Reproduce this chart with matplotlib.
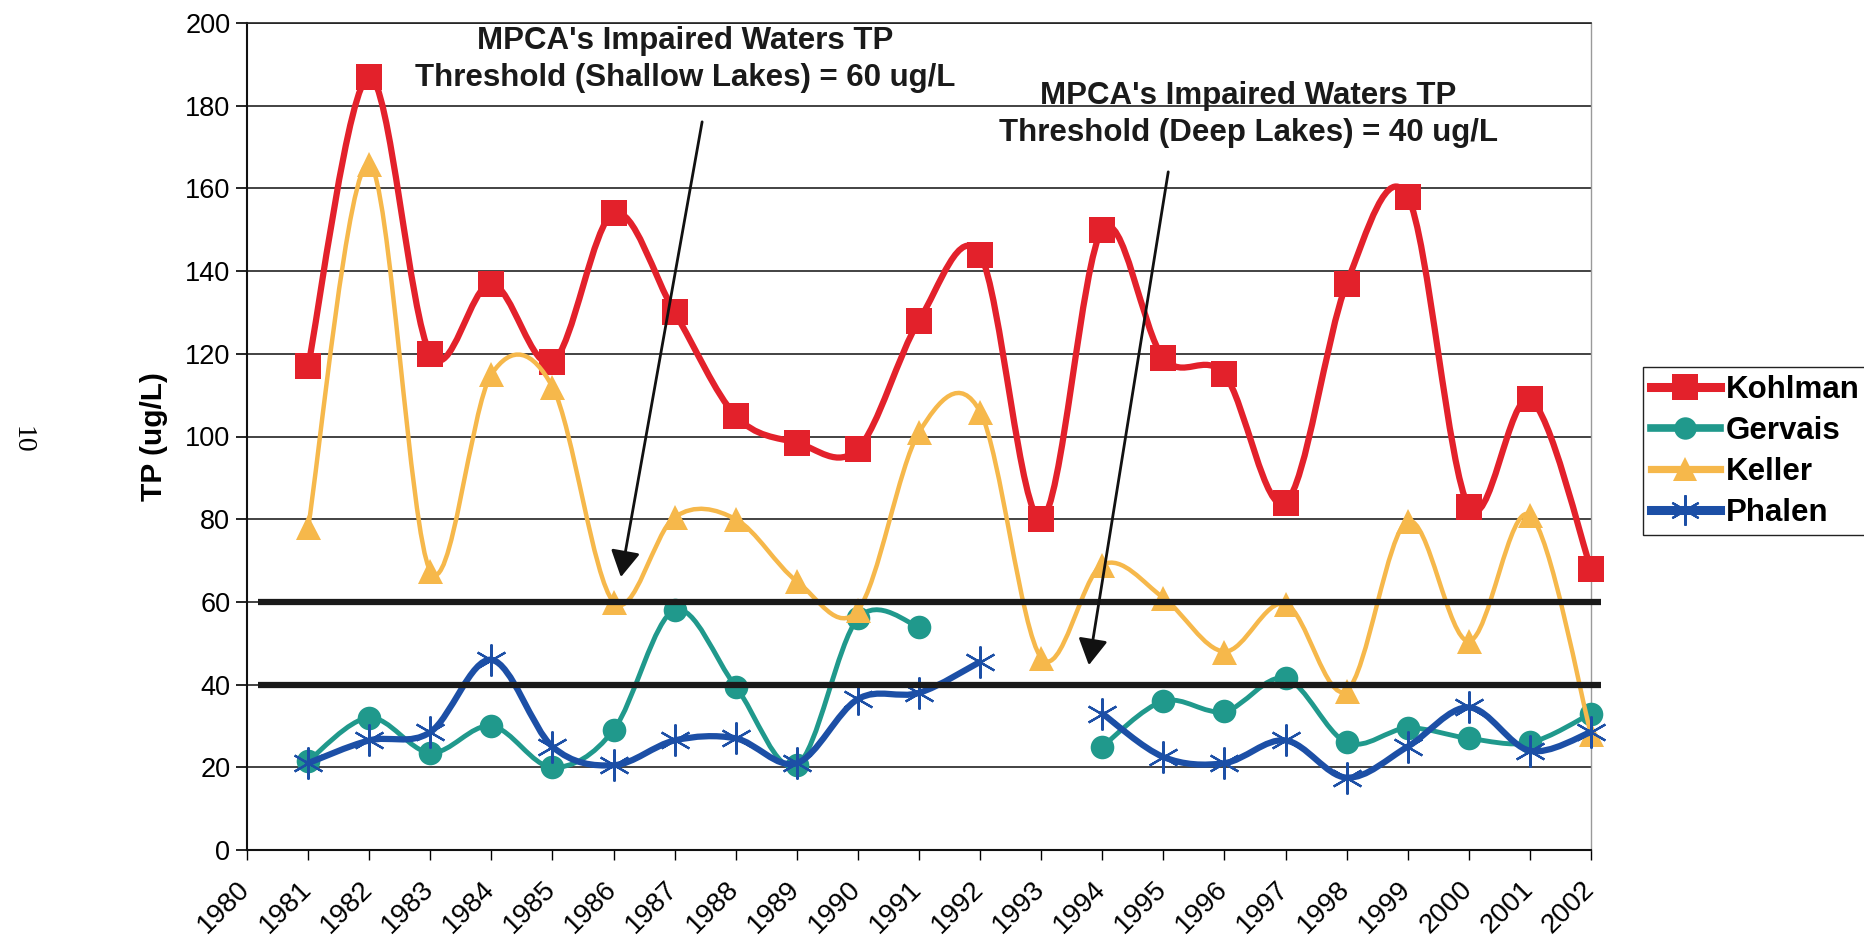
import numpy as np
import matplotlib.pyplot as plt
import matplotlib.transforms as mtransforms
from matplotlib.path import Path
from matplotlib.patches import PathPatch
from matplotlib.lines import Line2D

plt.rcParams['font.family'] = ['Liberation Sans', 'DejaVu Sans']

# values (ug/L), nan = no sample that year
years = np.arange(1981, 2003)
kohlman = [117, 187, 120, 137, 118, 154, 130, 105, 98.5, 97, 128, 144,
           80, 150, 119, 115, 84, 137, 158, 83, 109, 68]
gervais = [21.5, 32, 23.5, 30, 20, 29, 58, 39.5, 20.5, 56, 54, np.nan,
           np.nan, 25, 36, 33.5, 41.5, 26, 29.5, 27, 26, 33]
keller = [78, 166, 67.5, 115, 112, 60, 80.5, 80, 65, 58, 101, 106,
          46.5, 69, 61, 48, 59.5, 38.5, 79.5, 50.5, 81, 28]
phalen = [21, 26.5, 28.5, 46, 25, 20.5, 26.5, 27, 21, 36.5, 38, 45.5,
          np.nan, 33, 22.5, 21, 26.5, 17.5, 25, 34.5, 24, 28.5]
year_labels = [str(y) for y in range(1980, 2003)]

shallow_limit = 60
deep_limit = 40


def smooth_path(x, y):
    # Excel style "smoothed line": a cubic bezier through each run of points
    x = np.asarray(x, float)
    y = np.asarray(y, float)
    ok = ~np.isnan(y)
    runs, start = [], None
    for i, v in enumerate(ok):
        if v and start is None:
            start = i
        if not v and start is not None:
            runs.append((start, i))
            start = None
    if start is not None:
        runs.append((start, len(y)))
    verts, codes = [], []
    for a, b in runs:
        p = np.column_stack([x[a:b], y[a:b]])
        n = len(p)
        if n < 2:
            continue
        verts.append(p[0])
        codes.append(Path.MOVETO)
        for i in range(n - 1):
            p0 = p[i - 1] if i > 0 else p[i]
            p3 = p[i + 2] if i + 2 < n else p[i + 1]
            c1 = p[i] + (p[i + 1] - p0) / 6
            c2 = p[i + 1] - (p3 - p[i]) / 6
            verts += [c1, c2, p[i + 1]]
            codes += [Path.CURVE4] * 3
    return Path(verts, codes)


series = [
    ("Kohlman", kohlman, dict(color='#e3212b', lw=4.5, marker='s', ms=19, mew=0)),
    ("Gervais", gervais, dict(color='#20998c', lw=3.5, marker='o', ms=17, mew=0)),
    ("Keller", keller, dict(color='#f6b84b', lw=3.2, marker='^', ms=18, mew=0)),
    ("Phalen", phalen, dict(color='#1c4fa6', lw=4.5, marker=(6, 2, 0), ms=23, mew=1.6)),
]

fig = plt.figure(figsize=(18.65, 9.36), dpi=100)
ax = fig.add_axes([247 / 1865, 1 - 850 / 936, 1344 / 1865, 827 / 936])

handles = []
for k, (name, vals, st) in enumerate(series):
    z = 3 + k
    ax.add_patch(PathPatch(smooth_path(years, vals), fill=False, edgecolor=st['color'],
                           lw=st['lw'], capstyle='round', joinstyle='round',
                           zorder=z, clip_on=False))
    ax.plot(years, vals, linestyle='none', marker=st['marker'], ms=st['ms'],
            color=st['color'], mec=st['color'], mew=st['mew'], zorder=z + 0.5,
            clip_on=False)
    handles.append(Line2D([], [], color=st['color'], lw=st['lw'] + 2, marker=st['marker'],
                          ms=st['ms'] * 0.95, mec=st['color'], mew=st['mew']))

# threshold lines (drawn like the hand-placed shapes in the original)
for lim in (shallow_limit, deep_limit):
    ax.plot([1980.18, 2002.16], [lim, lim], color='#1a1a1a', lw=4.5,
            solid_capstyle='butt', zorder=10, clip_on=False)

ax.set_xlim(1980, 2002)
ax.set_ylim(0, 200)
ax.set_yticks(np.arange(0, 201, 20))
ax.tick_params(axis='y', labelsize=19.5, length=8, width=1.2, direction='out', pad=4)
ax.tick_params(axis='x', length=7, width=1.0, direction='out', pad=8)
ax.set_xticks(np.arange(1980, 2003))
ax.set_xticklabels(year_labels, rotation=45, ha='right', va='top',
                   rotation_mode='anchor', fontsize=20)
shift = mtransforms.ScaledTranslation(-10 / 100, -5 / 100, fig.dpi_scale_trans)
for lab in ax.get_xticklabels():
    lab.set_transform(lab.get_transform() + shift)

ax.grid(axis='y', color='#222222', lw=1.2)
ax.set_axisbelow(True)
for side in ('left', 'bottom'):
    ax.spines[side].set_color('#111111')
    ax.spines[side].set_linewidth(1.5)
ax.spines['top'].set_color('#222222')
ax.spines['top'].set_linewidth(1.2)
ax.spines['right'].set_color('#9a9a9a')
ax.spines['right'].set_linewidth(1.0)

ax.set_ylabel('TP (ug/L)', fontsize=21.5, fontweight='bold')
ax.yaxis.set_label_coords(-0.059, 0.5)

# annotations
ax.text(1987.17, 191.2, "MPCA's Impaired Waters TP\nThreshold (Shallow Lakes) = 60 ug/L",
        ha='center', va='center', fontsize=22.5, fontweight='bold', linespacing=1.3,
        color='#1a1a1a', zorder=12)
ax.text(1996.39, 177.9, "MPCA's Impaired Waters TP\nThreshold (Deep Lakes) = 40 ug/L",
        ha='center', va='center', fontsize=22.5, fontweight='bold', linespacing=1.3,
        color='#1a1a1a', zorder=12)
arrow = dict(arrowstyle='-|>,head_length=0.8,head_width=0.45', mutation_scale=20,
             color='#111111', lw=2.0, shrinkA=0, shrinkB=0)
ax.annotate('', xy=(1986.12, 66.0), xytext=(1987.45, 176.1), arrowprops=arrow, zorder=12)
ax.annotate('', xy=(1993.78, 44.7), xytext=(1995.08, 164.0), arrowprops=arrow, zorder=12)

fig.legend(handles, [s[0] for s in series], loc='upper left',
           bbox_to_anchor=(1643 / 1865, 1 - 367 / 936), bbox_transform=fig.transFigure,
           frameon=True, fancybox=False, edgecolor='#222222', framealpha=1,
           borderaxespad=0, borderpad=0.25, handlelength=2.2, handletextpad=0.2,
           labelspacing=0.35, prop={'weight': 'bold', 'size': 22.5})

# page number from the scanned report
fig.text(22 / 1865, 1 - 440 / 936, '10', rotation=-90, ha='center', va='center',
         family=['Liberation Serif', 'DejaVu Serif'], fontsize=20)

fig.savefig('out.png', dpi=100)
